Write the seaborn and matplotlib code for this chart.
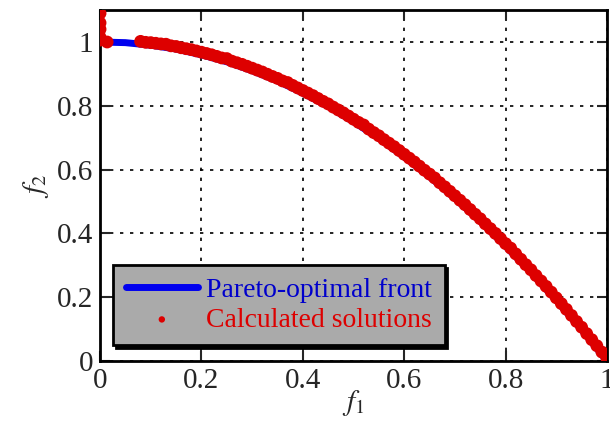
import numpy as np
import pandas as pd
import matplotlib
matplotlib.use("Agg")
import matplotlib.pyplot as plt
import seaborn as sns

# Pareto-optimal front
front_f1 = [0.00, 0.05, 0.10, 0.15, 0.20, 0.25, 0.30, 0.35, 0.40, 0.45, 0.50,
            0.55, 0.60, 0.65, 0.70, 0.75, 0.80, 0.85, 0.90, 0.95, 1.00]
front_f2 = [1.000, 0.998, 0.990, 0.978, 0.960, 0.938, 0.910, 0.878, 0.840, 0.798, 0.750,
            0.698, 0.640, 0.578, 0.510, 0.438, 0.360, 0.278, 0.190, 0.098, 0.000]

# calculated solutions (red dots)
sol_f1 = [0.000, 0.000, 0.000, 0.000, 0.000, 0.014,
          0.08, 0.09, 0.10, 0.11, 0.12, 0.13, 0.14, 0.15, 0.16, 0.17,
          0.18, 0.19, 0.20, 0.21, 0.22, 0.23, 0.24, 0.25, 0.26, 0.27,
          0.28, 0.29, 0.30, 0.31, 0.32, 0.33, 0.34, 0.35, 0.36, 0.37,
          0.38, 0.39, 0.40, 0.41, 0.42, 0.43, 0.44, 0.45, 0.46, 0.47,
          0.48, 0.49, 0.50, 0.51, 0.52, 0.53, 0.54, 0.55, 0.56, 0.57,
          0.58, 0.59, 0.60, 0.61, 0.62, 0.63, 0.64, 0.65, 0.66, 0.67,
          0.68, 0.69, 0.70, 0.71, 0.72, 0.73, 0.74, 0.75, 0.76, 0.77,
          0.78, 0.79, 0.80, 0.81, 0.82, 0.83, 0.84, 0.85, 0.86, 0.87,
          0.88, 0.89, 0.90, 0.91, 0.92, 0.93, 0.94, 0.95, 0.96, 0.97,
          0.98, 0.99, 1.00]
sol_f2 = [1.006, 1.015, 1.040, 1.060, 1.090, 1.000,
          1.002, 0.999, 0.998, 0.996, 0.994, 0.993, 0.988, 0.986, 0.982, 0.979,
          0.976, 0.972, 0.968, 0.964, 0.960, 0.955, 0.950, 0.948, 0.940, 0.935,
          0.930, 0.924, 0.918, 0.912, 0.906, 0.899, 0.892, 0.886, 0.878, 0.873,
          0.864, 0.856, 0.848, 0.840, 0.832, 0.823, 0.814, 0.806, 0.796, 0.787,
          0.778, 0.768, 0.758, 0.748, 0.740, 0.727, 0.716, 0.706, 0.694, 0.683,
          0.672, 0.660, 0.648, 0.636, 0.624, 0.611, 0.598, 0.586, 0.574, 0.559,
          0.546, 0.532, 0.518, 0.504, 0.490, 0.475, 0.460, 0.446, 0.430, 0.415,
          0.400, 0.384, 0.368, 0.354, 0.336, 0.319, 0.302, 0.286, 0.268, 0.251,
          0.234, 0.216, 0.198, 0.180, 0.162, 0.143, 0.124, 0.106, 0.086, 0.067,
          0.048, 0.028, 0.008]

front = pd.DataFrame({"f1": front_f1, "f2": front_f2})
sols = pd.DataFrame({"f1": sol_f1, "f2": sol_f2})

sns.set_style("ticks")
plt.rcParams["font.family"] = ["Liberation Serif", "DejaVu Serif"]
plt.rcParams["mathtext.fontset"] = "stix"

fig = plt.figure(figsize=(6.1, 4.21), dpi=100)
ax = fig.add_axes([0.164, 0.1425, 0.831, 0.8335])

sns.lineplot(data=front, x="f1", y="f2", ax=ax, color="#0000ee", linewidth=5,
             label="Pareto-optimal front", sort=False, zorder=2)
sns.scatterplot(data=sols, x="f1", y="f2", ax=ax, color="#dd0000", s=85,
                edgecolor="none", label="Calculated solutions", zorder=3)

ax.set_xlim(0, 1)
ax.set_ylim(0, 1.1)
ax.set_xticks([0, 0.2, 0.4, 0.6, 0.8, 1])
ax.set_xticklabels(["0", "0.2", "0.4", "0.6", "0.8", "1"])
ax.set_yticks([0, 0.2, 0.4, 0.6, 0.8, 1])
ax.set_yticklabels(["0", "0.2", "0.4", "0.6", "0.8", "1"])
ax.grid(True, color="black", linestyle=(0, (2, 4)), linewidth=1.2)
ax.tick_params(direction="in", length=7, width=1.5, labelsize=21,
               top=True, right=True, pad=5)
for sp in ax.spines.values():
    sp.set_linewidth(2)
    sp.set_color("black")

ax.set_xlabel("$f_1$", fontsize=21, labelpad=-4)
ax.set_ylabel("$f_2$", fontsize=21, labelpad=4)

leg = ax.legend(loc="lower left", bbox_to_anchor=(0.026, 0.045), borderaxespad=0,
                fontsize=20, frameon=True, fancybox=False,
                shadow={"color": "black", "alpha": 1},
                facecolor="#aaaaaa", edgecolor="black", framealpha=1,
                handlelength=2.6, handletextpad=0.3, borderpad=0.45,
                labelspacing=0.15, markerscale=0.5)
leg.get_frame().set_linewidth(2)
leg.get_texts()[0].set_color("#0000cc")
leg.get_texts()[1].set_color("#dd0000")

fig.savefig("out.png", dpi=100)
